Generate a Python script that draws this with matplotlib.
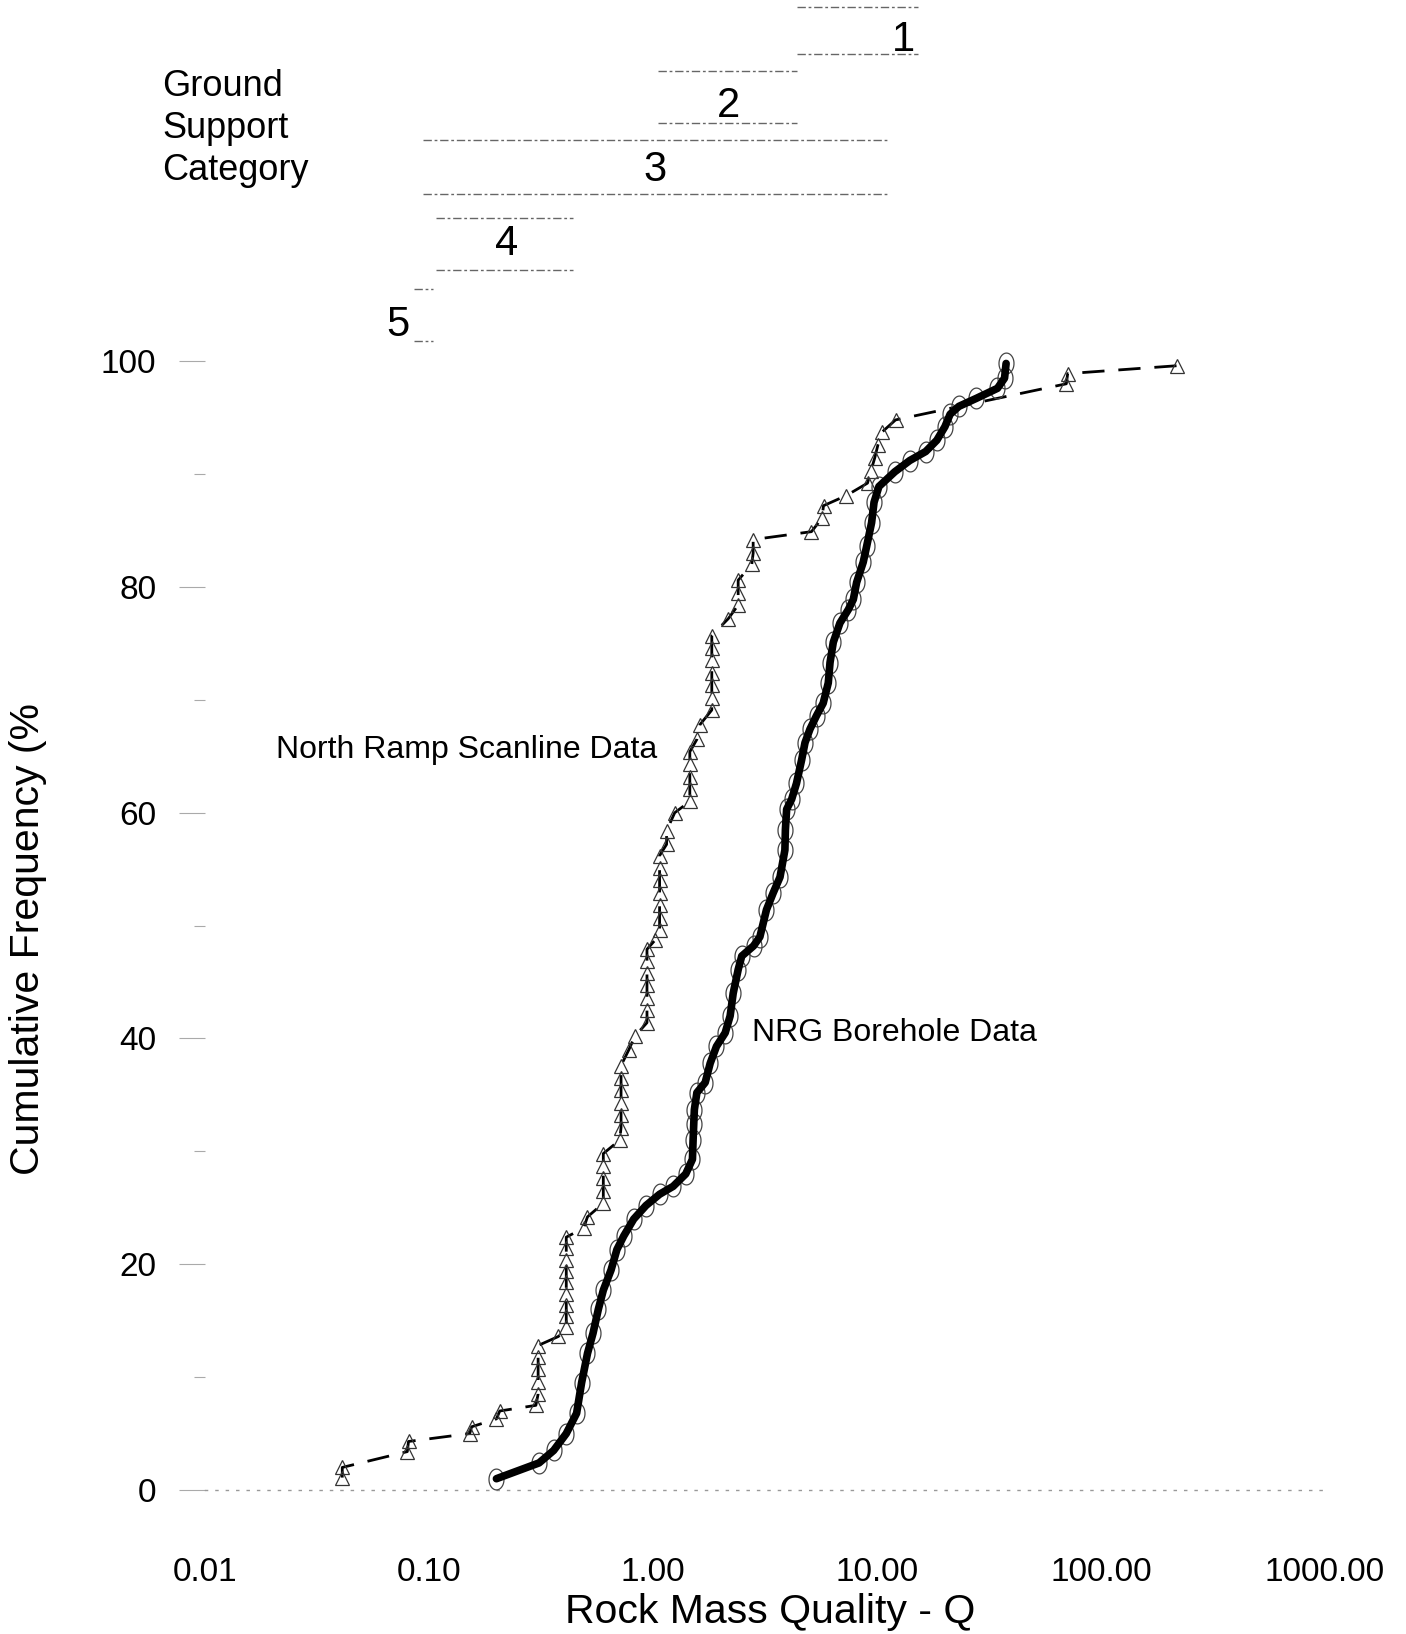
import matplotlib
matplotlib.use("Agg")
import matplotlib.pyplot as plt
import matplotlib.ticker as mticker
import numpy as np
from matplotlib.path import Path

plt.rcParams["font.family"] = ["Liberation Sans", "DejaVu Sans"]

# NRG borehole data: rock mass quality Q vs cumulative frequency (%)
nrg_q = [0.20, 0.31, 0.36, 0.41, 0.456, 0.48, 0.51, 0.54, 0.57, 0.60,
         0.65, 0.69, 0.74, 0.82, 0.93, 1.07, 1.23, 1.40, 1.50, 1.51,
         1.52, 1.53, 1.57, 1.71, 1.80, 1.92, 2.10, 2.21, 2.28, 2.40,
         2.49, 2.81, 3.00, 3.21, 3.44, 3.69, 3.88, 3.90, 3.95, 4.16,
         4.37, 4.61, 4.77, 5.02, 5.37, 5.75, 6.06, 6.17, 6.38, 6.83,
         7.45, 7.84, 8.11, 8.68, 8.99, 9.46, 9.70, 10.2, 12.0, 14.0,
         16.5, 18.5, 20.1, 21.2, 23.2, 27.7, 34.5, 37.1, 37.7]
nrg_freq = [1.0, 2.4, 3.5, 5.0, 6.8, 9.5, 12.1, 13.9, 16.0, 17.7,
            19.5, 21.3, 22.5, 24.0, 25.2, 26.2, 26.9, 28.0, 29.3, 31.0,
            32.4, 33.7, 35.2, 36.1, 37.8, 39.3, 40.5, 42.0, 44.0, 46.1,
            47.3, 48.2, 49.0, 51.4, 52.9, 54.3, 56.7, 58.5, 60.3, 61.2,
            62.6, 64.7, 66.2, 67.4, 68.6, 69.7, 71.5, 73.3, 75.1, 76.8,
            78.0, 78.9, 80.4, 82.2, 83.6, 85.7, 87.5, 88.9, 90.2, 91.2,
            92.0, 93.0, 94.2, 95.3, 96.0, 96.7, 97.6, 98.5, 99.8]

# North Ramp scanline data
scan_q = [0.041, 0.041, 0.080, 0.081, 0.152, 0.155, 0.200, 0.207, 0.300,
          0.307, 0.307, 0.307, 0.307, 0.307, 0.378,
          0.41, 0.41, 0.41, 0.41, 0.41, 0.41, 0.41, 0.41, 0.41,
          0.49, 0.51, 0.60, 0.60, 0.60, 0.60, 0.60, 0.71,
          0.72, 0.72, 0.72, 0.72, 0.72, 0.72, 0.78, 0.83,
          0.94, 0.94, 0.94, 0.94, 0.94, 0.94, 0.94, 1.02,
          1.07, 1.07, 1.07, 1.07, 1.07, 1.07, 1.07, 1.15, 1.15, 1.25,
          1.46, 1.46, 1.46, 1.46, 1.46, 1.57, 1.62,
          1.83, 1.83, 1.83, 1.83, 1.83, 1.83, 1.83, 2.17,
          2.40, 2.40, 2.40, 2.76, 2.80, 2.80, 5.10, 5.68, 5.77,
          7.30, 9.07, 9.40, 9.76, 10.1, 10.5, 12.1, 70.0, 71.0, 218.0]
scan_freq = [1.1, 2.0, 3.4, 4.3, 5.0, 5.6, 6.3, 7.0, 7.5,
             8.5, 9.6, 10.7, 11.8, 12.8, 13.6,
             14.4, 15.4, 16.4, 17.4, 18.4, 19.4, 20.4, 21.4, 22.4,
             23.2, 24.2, 25.4, 26.5, 27.6, 28.7, 29.8, 31.0,
             32.1, 33.2, 34.3, 35.4, 36.5, 37.6, 39.0, 40.2,
             41.4, 42.5, 43.6, 44.7, 45.8, 46.9, 47.9, 48.7,
             49.6, 50.7, 51.8, 52.9, 54.0, 55.1, 56.2, 57.2, 58.4, 60.0,
             61.0, 62.1, 63.2, 64.3, 65.4, 66.5, 67.8,
             69.1, 70.2, 71.3, 72.4, 73.5, 74.6, 75.7, 77.2,
             78.4, 79.5, 80.6, 82.0, 83.0, 84.2, 84.9, 86.1, 87.2,
             88.1, 89.2, 90.3, 91.4, 92.6, 93.7, 94.8, 98.0, 98.9, 99.6]

x_ticks = [0.01, 0.1, 1, 10, 100, 1000]
x_tick_labels = ["0.01", "0.10", "1.00", "10.00", "100.00", "1000.00"]
y_ticks = [0, 20, 40, 60, 80, 100]
y_minor_ticks = [10, 30, 50, 70, 90]

# ground support categories: Q range of each band
category_names = ["1", "2", "3", "4", "5"]
category_q_low = [4.4, 1.05, 0.094, 0.108, 0.086]
category_q_high = [15.2, 4.4, 11.2, 0.44, 0.104]


def ellipse_marker():
    t = np.linspace(0, 2 * np.pi, 49)
    return Path(np.column_stack([0.72 * np.cos(t), np.sin(t)]))


fig = plt.figure(figsize=(14.06, 16.34), dpi=100)
ax = fig.add_axes([205 / 1406, 144 / 1634, 1120 / 1406, 1490 / 1634])
ax.set_xscale("log")
ax.set_xlim(0.01, 1000)
ax.set_ylim(0, 132)

# scanline: dashed stepped line with open triangles
ax.plot(scan_q, scan_freq, color="black", lw=2.0, dashes=(8, 5), zorder=2)
ax.plot(scan_q, scan_freq, ls="none", marker="^", ms=10, mfc="none",
        mec="#333333", mew=0.9, zorder=3)

# borehole: heavy solid line over thin open ellipses
ax.plot(nrg_q, nrg_freq, ls="none", marker=ellipse_marker(), ms=15,
        mfc="none", mec="#444444", mew=0.9, zorder=4)
ax.plot(nrg_q, nrg_freq, color="black", lw=5.5, solid_capstyle="round",
        solid_joinstyle="round", zorder=5)

# category bands above the data
band_tops = [131.4, 125.7, 119.6, 112.7, 106.4]
band_bottoms = [127.2, 121.1, 114.8, 108.1, 101.8]
label_q = [13.1, 2.18, 1.02, 0.223, 0.073]
label_y = [128.5, 122.6, 116.9, 110.4, 103.2]
for name, lo, hi, top, bot, lq, ly in zip(category_names, category_q_low,
                                          category_q_high, band_tops,
                                          band_bottoms, label_q, label_y):
    for yy in (top, bot):
        ax.plot([lo, hi], [yy, yy], color="#666666", lw=1.0,
                dashes=(6, 2, 2, 2), zorder=1)
    ax.text(lq, ly, name, fontsize=30, ha="center", va="center")

ax.text(-0.0384, 0.914, "Ground\nSupport\nCategory", transform=ax.transAxes,
        fontsize=26, ha="left", va="center", linespacing=1.26)

ax.text(0.0208, 65.6, "North Ramp Scanline Data", fontsize=23,
        ha="left", va="center")
ax.text(2.77, 40.5, "NRG Borehole Data", fontsize=23, ha="left",
        va="center")

# axes styling
for side in ("left", "top", "right"):
    ax.spines[side].set_visible(False)
ax.spines["bottom"].set_color("#999999")
ax.spines["bottom"].set_linestyle((0, (1.5, 6)))
ax.spines["bottom"].set_linewidth(1.0)

ax.set_xticks(x_ticks)
ax.set_xticklabels(x_tick_labels)
ax.xaxis.set_minor_locator(mticker.NullLocator())
ax.tick_params(axis="x", length=0, pad=48, labelsize=24)

ax.set_yticks(y_ticks)
ax.set_yticks(y_minor_ticks, minor=True)
ax.tick_params(axis="y", which="major", length=19, width=0.8,
               color="#aaaaaa", pad=16, labelsize=24)
ax.tick_params(axis="y", which="minor", length=8, width=0.8,
               color="#aaaaaa")

ax.set_xlabel("Rock Mass Quality - Q", fontsize=29.5, va="center")
ax.xaxis.set_label_coords(0.505, -0.082)
ax.set_ylabel("Cumulative Frequency (%", fontsize=29.5, va="center",
              ha="center")
ax.yaxis.set_label_coords(-0.158, 0.370)

fig.savefig("out.png", dpi=100)
